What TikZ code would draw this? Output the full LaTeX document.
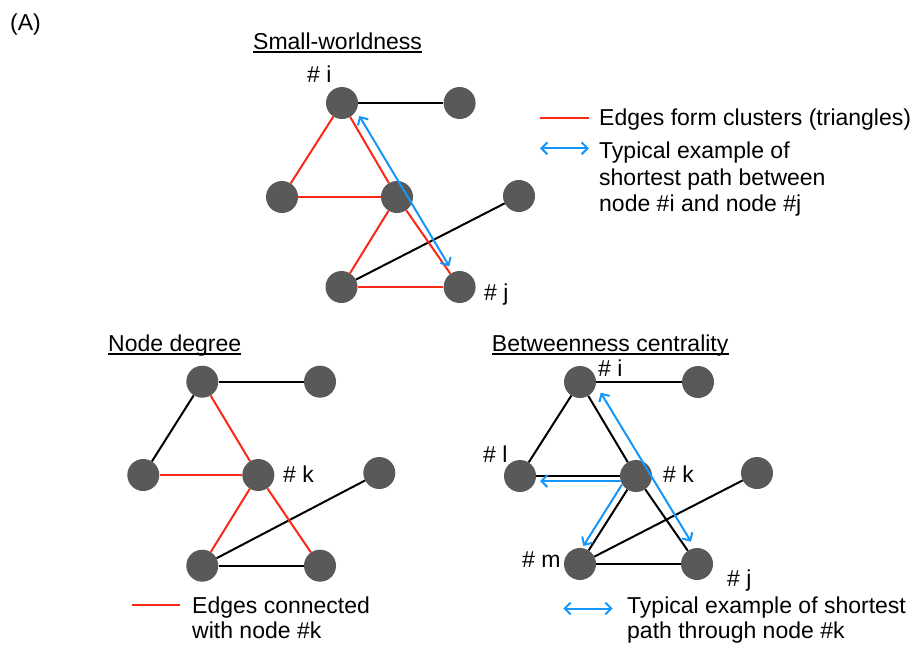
\documentclass[tikz,border=0pt]{standalone}
\usepackage{fontspec}
\setmainfont{Liberation Sans}
\usetikzlibrary{arrows.meta}
\definecolor{nodegray}{RGB}{89,89,89}
\definecolor{edgered}{RGB}{250,40,20}
\definecolor{pathblue}{RGB}{20,150,250}

\begin{document}
\begin{tikzpicture}[x=1pt,y=-1pt,
  vertex/.style={circle,fill=nodegray,minimum size=32pt,inner sep=0pt},
  txt/.style={anchor=base west,inner sep=0pt,font=\fontsize{23}{27}\selectfont},
  plain/.style={line width=2pt,black},
  hot/.style={line width=2pt,edgered},
  route/.style={line width=2pt,pathblue,line cap=round},
  >={Straight Barb[length=6pt,width=12pt]},
  uline/.style={line width=1.5pt,black}]

\useasboundingbox (0,0) rectangle (917,651);

\node[txt] (panel) at (10,30) {(A)};

% ---------------- Small-worldness ----------------
\node[txt] (t1) at (253,49) {Small-worldness};
\draw[uline] ([yshift=-3pt]t1.base west) -- ([yshift=-3pt]t1.base east);

\node[vertex] (a1) at (342,103) {};
\node[vertex] (a2) at (459.6,103) {};
\node[vertex] (a3) at (282,197) {};
\node[vertex] (a4) at (397,197) {};
\node[vertex] (a5) at (519,196) {};
\node[vertex] (a6) at (341.5,287) {};
\node[vertex] (a7) at (459.6,287) {};

\node[txt] (ai) at (307,82) {\# i};
\node[txt] (aj) at (484,300) {\# j};

\draw[plain] (a1) -- (a2);
\draw[plain] (a6) -- (a5);
\draw[hot] (a1) -- (a3);
\draw[hot] (a1) -- (a4);
\draw[hot] (a3) -- (a4);
\draw[hot] (a4) -- (a6);
\draw[hot] (a4) -- (a7);
\draw[hot] (a6) -- (a7);
\draw[route,<->] ([shift={(17.3,13)}]a1.center) -- ([shift={(-10.3,-20.7)}]a7.center);

% legend
\coordinate (l1a) at (540,118);
\coordinate (l1b) at (589,118);
\coordinate (l2a) at (540,148.3);
\coordinate (l2b) at (589,148.3);
\draw[hot] (l1a) -- (l1b);
\draw[route,<->] (l2a) -- (l2b);
\node[txt] (e1) at (599,125) {Edges form clusters (triangles)};
\node[txt] (e2) at (599,158) {Typical example of};
\node[txt] (e3) at (599,185) {shortest path between};
\node[txt] (e4) at (599,211) {node \#i and node \#j};

% ---------------- Node degree ----------------
\node[txt] (t2) at (108,351) {Node degree};
\draw[uline] ([yshift=-3pt]t2.base west) -- ([yshift=-3pt]t2.base east);

\node[vertex] (b1) at (202.3,381.7) {};
\node[vertex] (b2) at (320,381.7) {};
\node[vertex] (b3) at (143.3,475) {};
\node[vertex] (b4) at (258.3,475) {};
\node[vertex] (b5) at (379.3,473) {};
\node[vertex] (b6) at (202.3,565.7) {};
\node[vertex] (b7) at (320,565.7) {};

\node[txt] (bk) at (283,482) {\# k};

\draw[plain] (b1) -- (b2);
\draw[plain] (b1) -- (b3);
\draw[plain] (b6) -- (b7);
\draw[plain] (b6) -- (b5);
\draw[hot] (b1) -- (b4);
\draw[hot] (b3) -- (b4);
\draw[hot] (b4) -- (b6);
\draw[hot] (b4) -- (b7);

\coordinate (l3a) at (131.7,605);
\coordinate (l3b) at (180,605);
\draw[hot] (l3a) -- (l3b);
\node[txt] (f1) at (192,613) {Edges connected};
\node[txt] (f2) at (192,638) {with node \#k};

% ---------------- Betweenness centrality ----------------
\node[txt] (t3) at (491.7,351) {Betweenness centrality};
\draw[uline] ([yshift=-3pt]t3.base west) -- ([yshift=-3pt]t3.base east);

\node[vertex] (c1) at (580,382) {};
\node[vertex] (c2) at (698,382) {};
\node[vertex] (c3) at (520,476) {};
\node[vertex] (c4) at (636,476) {};
\node[vertex] (c5) at (757,473) {};
\node[vertex] (c6) at (580,564) {};
\node[vertex] (c7) at (697,564) {};

\node[txt] (ci) at (598,376) {\# i};
\node[txt] (cl) at (483,462) {\# l};
\node[txt] (ck) at (663,482) {\# k};
\node[txt] (cm) at (522,567) {\# m};
\node[txt] (cj) at (727,586) {\# j};

\draw[plain] (c1) -- (c2);
\draw[plain] (c1) -- (c3);
\draw[plain] (c1) -- (c4);
\draw[plain] (c3) -- (c4);
\draw[plain] (c4) -- (c6);
\draw[plain] (c4) -- (c7);
\draw[plain] (c6) -- (c7);
\draw[plain] (c6) -- (c5);

\draw[route,<->] ([shift={(20.7,10.7)}]c1.center) -- ([shift={(-6,-22.3)}]c7.center);
\draw[route,->] ([shift={(-16,5)}]c4.center) -- ([shift={(20,5)}]c3.center);
\draw[route,->] ([shift={(-14.3,9)}]c4.center) -- ([shift={(3.3,-18)}]c6.center);

\coordinate (l4a) at (563.3,608.5);
\coordinate (l4b) at (612.7,608.5);
\draw[route,<->] (l4a) -- (l4b);
\node[txt] (g1) at (627,613) {Typical example of shortest};
\node[txt] (g2) at (627,638) {path through node \#k};

\end{tikzpicture}
\end{document}
